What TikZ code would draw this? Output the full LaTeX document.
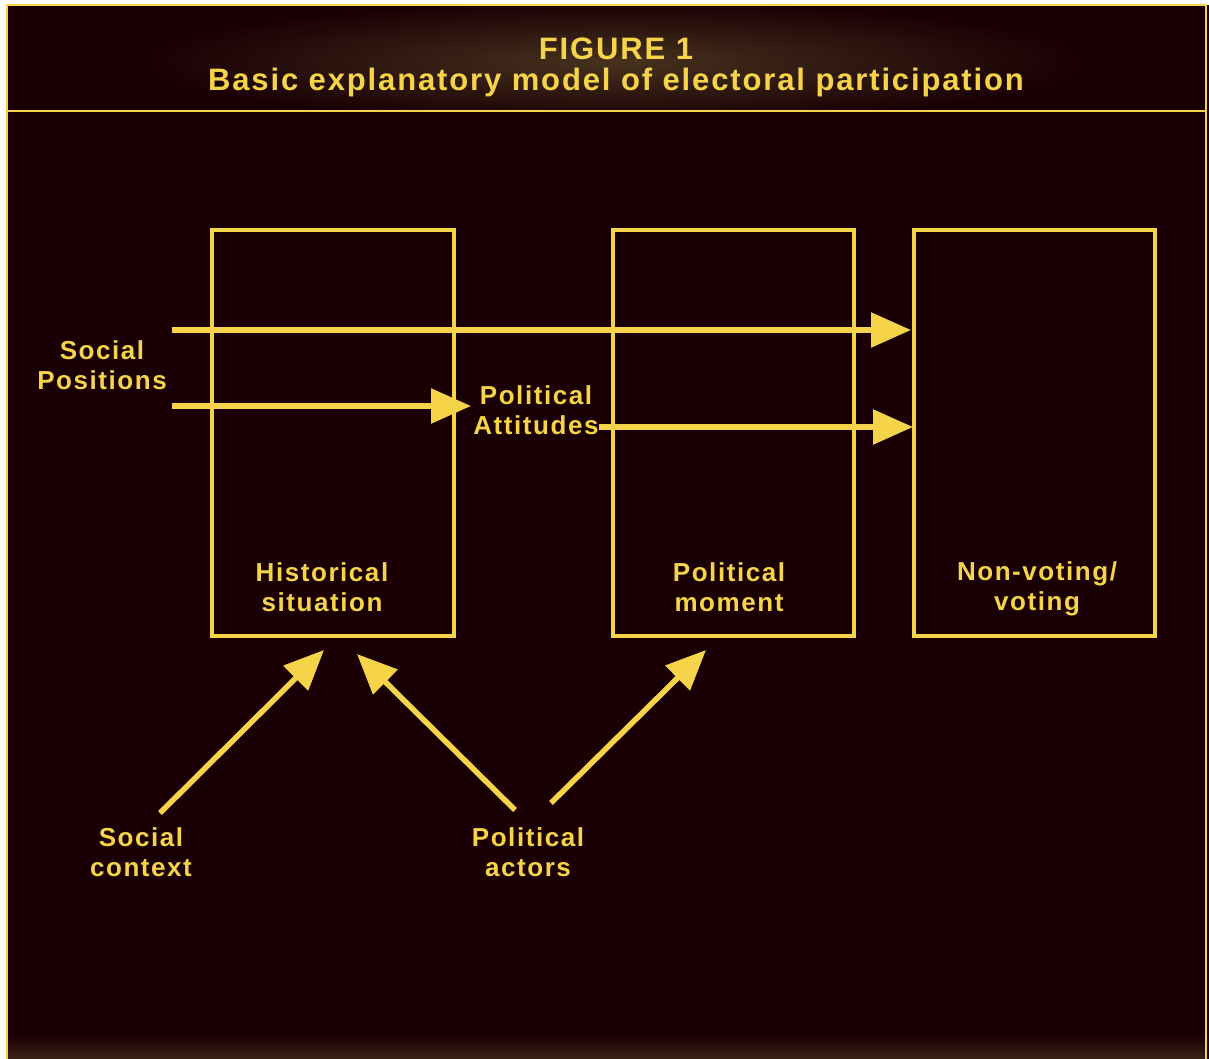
\documentclass[tikz,border=0pt]{standalone}
\usepackage{fontspec}
\setmainfont{Liberation Sans}[LetterSpace=6]
\usetikzlibrary{arrows.meta}
\definecolor{bg}{RGB}{26,0,4}
\definecolor{gold}{RGB}{246,212,74}
\definecolor{glow}{RGB}{70,50,30}
\tikzset{
  box/.style={draw=gold, line width=3.5pt},
  lbl/.style={text=gold, font=\bfseries\fontsize{26}{30}\selectfont, align=center, inner sep=0pt},
  ttl/.style={text=gold, font=\bfseries\fontsize{31}{31}\selectfont, align=center, inner sep=0pt},
  arr/.style={draw=gold, line width=5.5pt, -{Triangle[length=40pt,width=34pt]}},
}
\begin{document}
\begin{tikzpicture}[x=1pt,y=-1pt]
\useasboundingbox (0,0) rectangle (1209,1059);
\fill[white] (0,0) rectangle (1209,1059);
\fill[bg] (7,5) rectangle (1209,1059);
% title glow
\begin{scope}
\clip (7,5) rectangle (1206,111);
\shade[inner color=glow, outer color=bg] (615,62) ellipse (470 and 60);
\end{scope}
\shade[top color=bg, bottom color=glow!70!bg] (7,1035) rectangle (1207,1059);
% frame
\draw[gold, line width=2.5pt] (7,1059) -- (7,5) -- (1206,5) -- (1206,1059);
\draw[gold, line width=2.5pt] (7,111) -- (1206,111);
% title
\node[ttl] (title) at (616,67) {FIGURE 1\\Basic explanatory model of electoral participation};
% boxes
\draw[box] (212,230) rectangle (454,636);
\draw[box] (613,230) rectangle (854,636);
\draw[box] (914,230) rectangle (1155,636);
\node[lbl] (hist) at (322,587) {Historical\\situation};
\node[lbl] (mom) at (729,587) {Political\\moment};
\node[lbl] (vote) at (1037,589) {Non-voting/\\voting};
% labels
\node[lbl] (sp) at (102,365) {Social\\Positions};
\node[lbl] (pa) at (536,410) {Political\\Attitudes};
\node[lbl] (sc) at (141,852) {Social\\context};
\node[lbl] (act) at (528,852) {Political\\actors};
% arrow endpoints
\coordinate (sp1) at (172,330);
\coordinate (sp2) at (172,406);
\coordinate (v1) at (911,330);
\coordinate (pain) at (471,406);
\coordinate (v2) at (913,427);
\coordinate (scs) at (160,813);
\coordinate (hs1) at (324,650);
\coordinate (acs1) at (515,810);
\coordinate (hs2) at (357,654);
\coordinate (acs2) at (551,803);
\coordinate (pm) at (706,650);
% arrows
\draw[arr] (sp1) -- (v1);
\draw[arr] (sp2) -- (pain);
\draw[arr] (pa.east |- v2) -- (v2);
\draw[arr] (scs) -- (hs1);
\draw[arr] (acs1) -- (hs2);
\draw[arr] (acs2) -- (pm);
\end{tikzpicture}
\end{document}
